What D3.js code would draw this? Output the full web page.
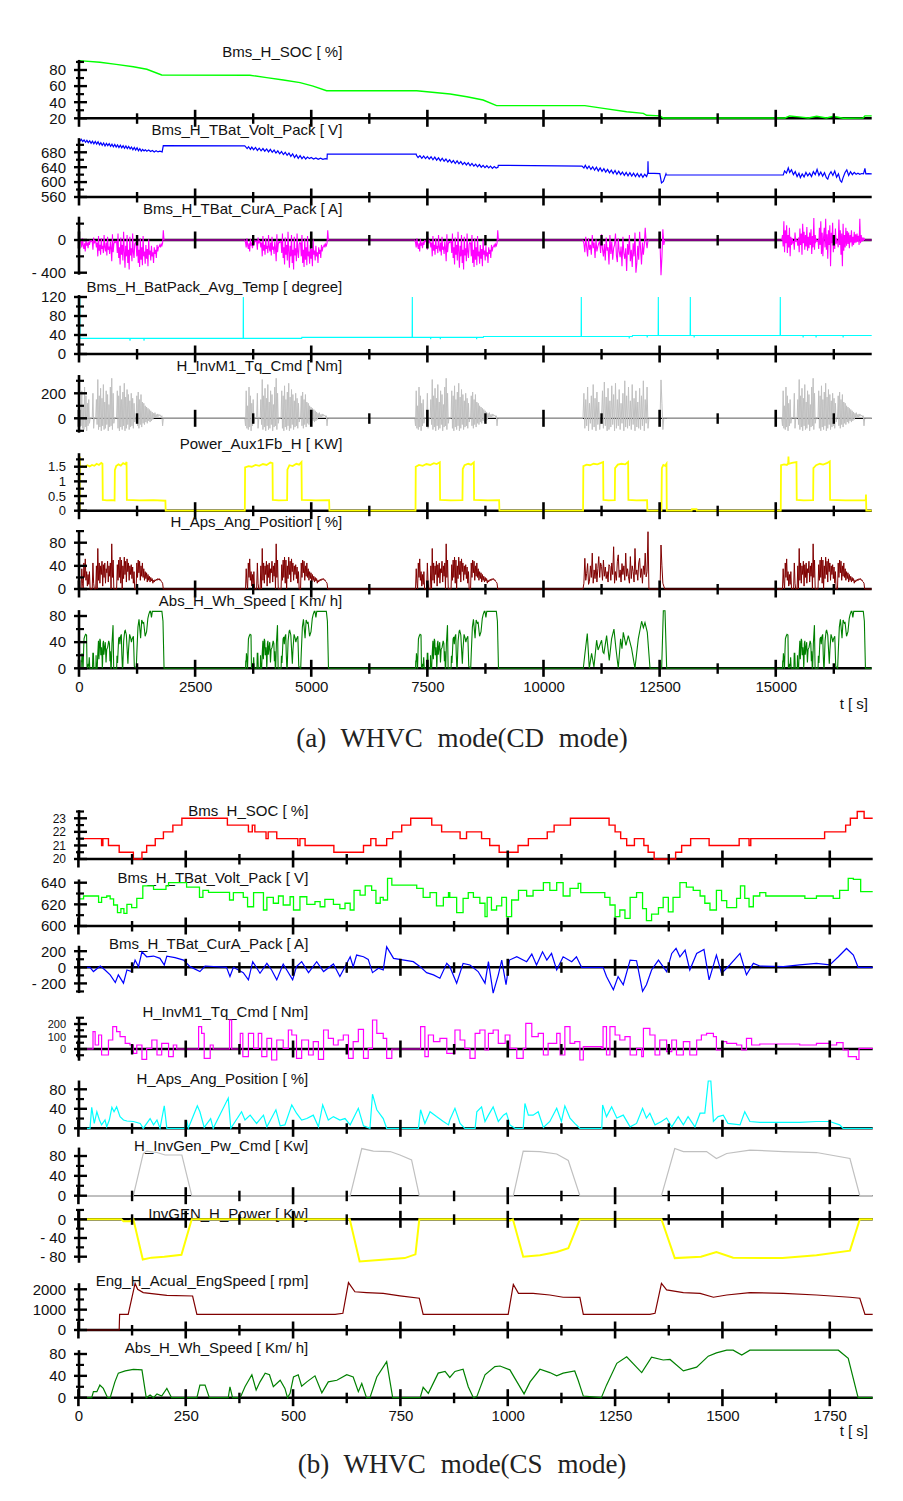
<!DOCTYPE html>
<html><head><meta charset="utf-8">
<script src="https://cdn.jsdelivr.net/npm/d3@7/dist/d3.min.js"></script>
<style>
body{margin:0;background:#fff}
svg{display:block}
text{font-family:"Liberation Sans",Arial,sans-serif;fill:#111}
.cap{font-family:"Liberation Serif","DejaVu Serif",serif;fill:#222}
</style>
</head><body>
<svg id="c" width="903" height="1501"></svg>
<script>
// ================= DATA =================
// ---- Panel (a): WHVC CD mode, t in s ----
const aXTicks = [0,2500,5000,7500,10000,12500,15000];
const aCycleStarts = [15,3555,7215,15115];   // start times of the repeated WHVC cycles (segments 1,2,3,5)
const aTEnd = 17066;

const aSoc = [[0,91.6],[450,89.6],[800,87],[1170,84.1],[1460,80.9],[1780,73.8],[3680,73.5],[4040,70.5],[4400,67.5],[4760,64.3],[5040,60],[5330,54.3],[7270,54.3],[7990,50.2],[8350,46.8],[8700,42.7],[8990,35.7],[10890,35.7],[11290,32.4],[11790,28.2],[12150,26.2],[12220,23.7],[12510,23],[12580,20.4],[15200,20.4],[15300,22.9],[15500,21.8],[15700,20.4],[15880,22.5],[16090,20.4],[16240,22.5],[16450,20],[16880,20.4],[16920,23],[17066,23]];

const aVolt = [[0,716],[30,711],[50,715],[80,709],[110,713],[140,707],[170,712],[200,706],[230,711],[260,704],[290,710],[320,703],[350,709],[380,702],[410,708],[440,700],[470,706],[500,699],[530,705],[560,697],[590,704],[620,698],[650,703],[680,696],[710,702],[740,695],[770,701],[800,694],[830,700],[860,693],[890,699],[920,692],[950,698],[980,691],[1010,697],[1040,690],[1070,696],[1100,689],[1130,694],[1160,687],[1190,693],[1220,686],[1250,692],[1280,684],[1310,690],[1340,683],[1370,688],[1400,684],[1430,687],[1460,683],[1500,686],[1540,682],[1580,685],[1620,681],[1660,684],[1700,681],[1740,683],[1790,681],[1815,698],[3570,697],
[3580,696],[3620,690],[3650,695],[3690,688],[3720,694],[3760,687],[3800,693],[3840,685],[3880,691],[3920,684],[3960,690],[4000,683],[4040,689],[4080,681],[4120,688],[4160,680],[4200,686],[4240,678],[4280,684],[4320,676],[4360,682],[4400,674],[4440,680],[4480,672],[4520,678],[4560,669],[4600,676],[4640,666],[4680,673],[4720,664],[4760,671],[4800,663],[4840,669],[4880,662],[4920,667],[4960,663],[5000,666],[5050,662],[5100,665],[5150,661],[5200,664],[5250,661],[5300,663],[5340,662],[5345,675],[7260,675],
[7265,672],[7300,666],[7340,671],[7380,664],[7420,670],[7460,663],[7500,669],[7540,662],[7580,668],[7620,660],[7660,667],[7700,659],[7740,665],[7780,657],[7820,664],[7860,656],[7900,662],[7940,654],[7980,660],[8020,652],[8060,658],[8100,650],[8140,657],[8180,649],[8220,655],[8260,647],[8300,653],[8340,646],[8380,652],[8420,644],[8460,650],[8500,643],[8540,648],[8580,641],[8620,647],[8660,640],[8700,645],[8740,639],[8780,644],[8820,638],[8860,643],[8900,637],[8940,642],[8980,638],[9020,640],[9027,645],[10830,643],
[10870,638],[10900,645],[10940,636],[10980,643],[11020,634],[11060,641],[11100,632],[11140,640],[11180,630],[11220,638],[11260,629],[11300,636],[11340,627],[11380,634],[11420,625],[11460,632],[11500,623],[11540,631],[11580,621],[11620,629],[11660,620],[11700,627],[11740,618],[11780,626],[11820,617],[11860,625],[11900,616],[11940,624],[11980,615],[12020,623],[12060,614],[12100,622],[12140,613],[12180,621],[12220,615],[12245,624],[12250,656],[12256,624],[12505,623],[12540,598],[12580,602],[12637,622],[12645,619],[15162,619],
[15190,630],[15230,624],[15270,638],[15300,626],[15340,633],[15380,620],[15420,628],[15460,615],[15500,624],[15530,612],[15570,622],[15610,614],[15650,626],[15690,617],[15730,624],[15770,615],[15810,628],[15850,620],[15890,634],[15930,618],[15970,627],[16010,616],[16050,625],[16090,612],[16120,608],[16150,620],[16190,628],[16230,618],[16270,630],[16310,613],[16350,622],[16390,604],[16420,600],[16450,612],[16490,625],[16530,633],[16570,618],[16610,628],[16650,620],[16690,626],[16730,621],[16770,624],[16810,621],[16850,623],[16890,622],[16920,637],[16940,622],[16990,623],[17066,622]];

// battery current, one value every 15 s of a CD cycle (segments 1-3)
const aCurCycle = [0,0,-30,-90,20,-60,-110,-40,-140,10,
-70,-30,-100,-20,-60,-10,-20,-10,-15,-120,
30,-40,-10,-20,-90,-30,-200,50,-130,-60,
-180,20,-110,-70,-160,60,-90,-140,-30,-190,
40,-120,-80,-170,-20,-100,-260,70,-150,-50,
-20,-30,-15,-20,-160,80,-220,-90,-300,30,
-180,-60,-250,100,-140,-340,-70,-200,60,-280,
-120,-360,40,-190,-100,-260,80,-150,-220,-50,
-30,-40,-200,60,-280,-120,-330,20,-240,-90,
-310,50,-200,-140,-290,-60,-230,-110,-320,10,
-180,-130,-250,-70,-200,-150,-280,-90,-170,-120,
-220,-60,-140,-90,-80,-60,-90,-50,-70,-40,120,0];
// segment 4, one value every 20 s from t = 10850 s
const aCurSeg4 = [0,-40,-150,40,-90,-200,20,-120,-60,-180,
60,-100,-30,-220,10,-140,-80,-40,-20,-160,
70,-110,-200,-50,-250,30,-130,-90,-300,60,
-170,-20,-240,-100,-60,80,-190,-270,20,-140,
-210,-80,-320,40,-160,-230,-100,-380,-50,-180,
60,-260,-120,-330,-40,-200,90,-400,-280,-70,
-240,100,-110,-300,-30,-180,-60,150,-20,-100,
0,0,0,0,0,0,0,0,0,0,
0,0,0,-50,-430,-200,130,-60,0,0,0];
// segment 5, one value every 15 s from t = 15115 s
const aCurSeg5 = [0,0,60,-80,230,-150,120,-40,180,-160,
60,-90,150,-200,40,-60,20,-30,-10,-120,
90,-20,0,-10,-70,30,-150,140,-60,80,
-180,200,-40,100,-120,60,-80,160,-130,40,
-100,90,-60,130,-170,50,-90,270,-120,60,
-20,0,-10,0,-110,150,-60,230,-170,90,
-200,40,150,-90,260,-120,70,-230,120,-60,
180,-320,90,-40,210,-150,60,-110,140,-50,
0,-20,-90,250,-60,120,-180,80,-320,200,
-130,60,-90,150,-70,110,-50,90,-100,60,
-30,120,-80,40,-60,100,-40,70,-30,80,
-20,50,-60,260,-40,60,-20,30,-10,20,0,0];

const aTemp = [[0,120],[18,120],[22,33],[1094,33],[1098,28],[1102,33],[1396,33],[1400,28],[1404,33],[3534,33],[3538,120],[3542,33],[4794,33],[4798,35],[7172,35],[7176,120],[7180,35],[7567,35],[7571,31],[7575,35],[7775,35],[7779,31],[7783,35],[8557,35],[8561,31],[8565,35],[8704,35],[8708,37],[10810,37],[10814,120],[10818,37],[11842,37],[11846,33],[11850,37],[11912,37],[11916,39],[12229,39],[12233,35],[12237,39],[12468,39],[12472,120],[12476,39],[13157,39],[13161,120],[13165,39],[13240,39],[13244,35],[13248,39],[15094,39],[15098,120],[15102,39],[15586,39],[15590,35],[15594,39],[15865,39],[15869,35],[15873,39],[16447,39],[16451,35],[16455,39],[17066,39]];

// motor torque command, one value every 15 s of a cycle
const aTqCycle = [0,0,-60,220,-80,100,-90,250,-70,180,
-100,120,-60,150,-40,0,0,0,0,200,
-80,0,0,0,150,-50,310,-90,180,-70,
240,-100,160,-60,270,-90,130,-80,220,-50,
190,-100,110,-70,250,-60,320,-90,200,-40,
0,0,0,0,220,-80,180,-100,260,-70,
150,-90,210,-60,280,-100,170,-80,230,-50,
190,-90,140,-70,200,-60,160,-80,120,-30,
0,0,180,-60,210,-80,150,-50,190,-70,
130,-40,120,-50,100,-30,90,-40,80,-20,
70,-30,60,-20,50,-10,40,10,45,5,
30,10,35,15,30,20,25,10,20,-60,0,0];
const aTqSeg4 = [0,200,-80,150,-60,250,-100,120,-40,180,
-90,270,-70,160,-100,210,-50,130,-90,0,
0,220,-80,290,-60,170,-100,240,-90,140,
-70,260,-50,190,-100,280,-80,150,-60,230,
-90,120,-40,200,-100,300,-70,180,-80,250,
-60,140,-90,270,-50,160,-100,220,-70,130,
-80,240,-90,180,-60,300,-100,150,-40,250,
-80,0,0,0,0,0,0,0,0,0,
0,0,0,0,307,120,-90,0,0,0,0];

const aAuxPw = [[0,0],[15,0],[18,1.84],[24,1.48],[80,1.52],[130,1.49],[180,1.55],[230,1.51],[280,1.56],[330,1.53],[380,1.6],[430,1.56],[480,1.63],[505,1.6],[512,0.37],[600,0.35],[700,0.36],[766,0.35],[772,1.38],[800,1.52],[850,1.58],[900,1.54],[950,1.62],[1000,1.58],[1024,1.66],[1030,0.37],[1300,0.35],[1600,0.36],[1860,0.34],[1866,0],[3570,0],[3576,1.48],[3650,1.52],[3720,1.5],[3800,1.56],[3880,1.53],[3960,1.59],[4040,1.56],[4120,1.64],[4166,1.62],[4172,0.37],[4300,0.35],[4480,0.36],[4487,1.4],[4530,1.55],[4600,1.52],[4680,1.6],[4740,1.57],[4790,1.66],[4797,0.37],[5100,0.35],[5385,0.36],[5391,0],[7245,0],[7250,1.5],[7320,1.56],[7400,1.53],[7480,1.59],[7560,1.56],[7640,1.62],[7700,1.59],[7768,1.65],[7774,0.37],[8000,0.35],[8255,0.36],[8262,1.42],[8300,1.55],[8380,1.6],[8440,1.57],[8500,1.65],[8506,0.37],[8800,0.35],[9045,0.36],[9051,0],[10852,0],[10858,1.52],[10930,1.57],[11000,1.55],[11080,1.6],[11160,1.58],[11240,1.63],[11284,1.66],[11290,0.37],[11400,0.35],[11535,0.36],[11541,1.45],[11600,1.57],[11680,1.6],[11760,1.58],[11822,1.66],[11828,0.37],[12000,0.35],[12230,0.36],[12236,0],[12540,0],[12548,1.45],[12580,1.56],[12620,1.53],[12648,1.6],[12654,0],[13190,0],[13195,0.05],[13295,0.05],[13300,0],[15108,0],[15114,1.55],[15180,1.58],[15240,1.56],[15268,1.62],[15274,1.85],[15280,1.6],[15350,1.63],[15446,1.66],[15452,0.37],[15600,0.35],[15805,0.36],[15811,1.45],[15870,1.55],[15950,1.6],[16020,1.57],[16100,1.62],[16164,1.68],[16170,0.37],[16500,0.35],[16938,0.36],[16943,0.55],[16950,0],[17066,0]];

// accelerator pedal position, one value every 15 s of a cycle
const aApsCycle = [0,0,0,35,10,0,45,20,52,15,
30,5,25,8,30,0,0,0,0,45,
10,0,0,0,40,0,70,15,45,10,
40,25,48,5,42,20,45,10,35,28,
48,12,40,22,45,0,78,20,50,0,
0,0,0,0,42,15,50,20,55,10,
50,0,40,18,55,25,48,12,52,30,
45,15,40,25,42,18,38,10,30,0,
0,0,45,20,50,28,48,15,40,22,
45,20,35,15,30,18,28,12,25,15,
22,12,20,14,18,10,15,12,16,14,
17,15,18,16,18,15,16,13,12,10,0,0];
const aApsSeg4 = [0,10,53,15,27,44,8,13,40,20,
62,10,33,18,44,12,35,56,20,45,
39,15,50,22,38,18,30,12,42,39,
15,45,25,73,10,30,15,48,59,20,
33,12,44,25,40,15,62,22,35,21,
10,56,18,40,30,12,70,25,33,15,
45,53,20,35,10,40,25,62,21,30,
99,0,0,0,0,0,0,0,0,0,
0,0,0,0,76,40,10,5,0,0];

// WHVC wheel speed profile (km/h), used in both panels
const whvcSpeed = [[0,0],[31,0],[35,11],[43,11],[50,23],[58,17],[68,0],[74,0],[85,29],[93,45],[109,49],[128,52],[148,51],[158,0],[167,5],[175,0],[183,7],[194,3],[206,17],[217,0],[276,0],[283,23],[295,23],[305,0],[349,0],[353,20],[359,0],[377,0],[388,20],[404,42],[414,14],[423,29],[435,45],[445,42],[454,20],[470,32],[481,17],[487,0],[493,8],[501,38],[512,42],[520,21],[532,29],[551,40],[567,9],[582,29],[602,32],[625,42],[640,38],[652,11],[660,26],[671,0],[679,0],[695,38],[718,66],[732,0],[796,0],[803,19],[815,8],[838,45],[854,48],[865,37],[877,48],[896,52],[908,20],[920,0],[928,2],[947,42],[970,57],[982,58],[1005,51],[1017,35],[1038,7],[1052,29],[1075,52],[1098,46],[1114,40],[1129,45],[1156,49],[1164,32],[1176,3],[1218,0],[1230,23],[1254,63],[1277,75],[1312,46],[1335,74],[1362,69],[1378,70],[1409,49],[1440,56],[1467,76],[1486,82],[1510,87],[1525,87],[1545,78],[1564,87],[1770,87],[1793,72],[1816,0],[1850,0]];
const aSpeedSeg4 = [[10857,0],[10893,23],[10943,53],[10986,0],[11036,23],[11086,2],[11144,43],[11175,28],[11201,33],[11251,43],[11280,25],[11301,23],[11359,50],[11416,12],[11466,45],[11517,60],[11560,30],[11610,0],[11660,45],[11690,30],[11718,55],[11775,35],[11826,50],[11897,30],[11969,0],[12041,45],[12113,72],[12150,62],[12185,70],[12235,55],[12293,0],[12544,0],[12580,88],[12616,88],[12652,0]];

// ---- Panel (b): WHVC CS mode, t in s ----
const bXTicks = [0,250,500,750,1000,1250,1500,1750];
const bTEnd = 1850;

const bSoc = [[0,21.5],[54,21],[57,21.5],[70,21],[95,20.5],[128,20],[148,20.5],[159,21],[179,21.5],[198,22],[220,22.5],[241,23],[347,22.5],[396,22],[405,22.5],[411,22],[437,21.5],[442,22],[462,21.5],[511,21],[516,21.5],[528,21],[595,20.5],[664,21],[681,21.5],[693,21],[718,21.5],[732,22],[753,22.5],[774,23],[823,22.5],[846,22],[889,21.5],[904,22],[939,21.5],[958,21],[980,20.5],[1024,21],[1048,21.5],[1092,22],[1108,22.5],[1146,23],[1236,22.5],[1250,22],[1263,21.5],[1277,21],[1295,21.5],[1317,21],[1327,20.5],[1341,20],[1391,20.5],[1405,21],[1426,21.5],[1469,21],[1539,21.5],[1562,21],[1566,21.5],[1738,22],[1787,22.5],[1798,23],[1814,23.5],[1830,23],[1850,23]];

const bVolt = [[0,625],[12,627.7],[47,621.8],[54,626.5],[66,627.7],[74,625],[82,619.4],[91,612.3],[99,616],[106,611.7],[113,620],[124,617],[136,625.5],[150,637],[175,633.8],[204,637],[210,640],[252,636],[282,626.5],[290,633],[303,631],[352,624],[361,630.8],[384,626.5],[394,617.8],[408,630.8],[431,614.8],[439,626.5],[454,621],[466,627.7],[477,619.4],[493,627],[501,614.8],[516,627],[532,620],[551,622.5],[563,617.8],[574,624.6],[594,620],[609,616],[621,621],[633,614.8],[642,633],[656,628.6],[668,637],[683,633],[693,621],[703,626.5],[710,624],[720,644],[730,637.8],[788,634.8],[803,626.5],[819,630.8],[834,618.5],[850,626.5],[862,630.8],[865,626.5],[881,612.3],[896,625.5],[908,630.8],[920,626.5],[935,621],[947,608.6],[952,626.5],[962,614.8],[974,618.5],[986,626.5],[997,608.6],[1009,624],[1025,633],[1044,627.7],[1059,633],[1083,640],[1098,633],[1114,640],[1129,627.7],[1145,634.8],[1164,639.4],[1170,630.8],[1207,630.8],[1226,626.5],[1238,619.4],[1250,608.6],[1261,614.8],[1273,607],[1285,626.5],[1300,630.8],[1314,616],[1323,605],[1335,611],[1351,617],[1362,626.5],[1374,613],[1385,626.5],[1401,640],[1416,636],[1432,633],[1448,627.7],[1459,621],[1471,614.8],[1486,633],[1498,623.4],[1510,617],[1533,625.5],[1542,637],[1552,625.5],[1562,617.8],[1572,627.7],[1587,630.8],[1601,627.7],[1692,625.5],[1719,627.7],[1758,625.5],[1773,633],[1793,644],[1805,643],[1822,631.7],[1850,631.7]];

const bCur = [[0,0],[27,0],[35,-53],[51,16],[62,-33],[74,-94],[86,-189],[93,-94],[105,-197],[113,-33],[124,-53],[132,90],[140,8],[148,193],[159,131],[175,140],[190,111],[200,29],[206,139],[225,120],[245,90],[260,8],[283,-53],[295,16],[345,0],[353,-115],[361,0],[384,-66],[396,-156],[406,70],[423,-74],[439,49],[450,-33],[462,-156],[477,41],[499,-156],[508,8],[520,70],[536,-66],[555,70],[571,-53],[594,41],[609,-115],[621,8],[633,131],[640,8],[648,152],[664,131],[675,98],[685,-66],[699,-12],[710,-33],[718,254],[734,111],[780,70],[796,8],[811,-66],[827,-94],[842,-135],[858,49],[865,8],[881,-197],[896,49],[912,29],[931,-53],[947,-197],[955,70],[966,-320],[978,-94],[986,90],[996,-217],[1004,90],[1021,131],[1044,70],[1056,164],[1067,29],[1081,193],[1091,90],[1102,172],[1114,-33],[1129,131],[1149,70],[1160,131],[1172,0],[1222,0],[1230,-115],[1246,-279],[1257,-115],[1269,-217],[1285,90],[1300,82],[1314,-299],[1323,-217],[1335,-33],[1351,90],[1370,-53],[1382,172],[1392,234],[1401,131],[1413,213],[1424,-33],[1440,172],[1457,221],[1469,-156],[1486,152],[1498,-74],[1517,29],[1541,172],[1556,-94],[1572,49],[1587,16],[1642,8],[1680,29],[1719,49],[1750,29],[1770,131],[1789,234],[1805,152],[1816,0],[1850,0]];

const bTq = [[0,0],[31,0],[34,139],[39,32],[47,112],[54,-48],[66,-48],[70,72],[80,179],[89,139],[97,99],[109,45],[120,32],[128,-35],[136,32],[148,-83],[159,5],[171,72],[183,-48],[194,45],[210,-61],[221,32],[229,0],[276,0],[280,179],[287,125],[293,-75],[307,32],[314,0],[345,0],[352,232],[357,0],[377,125],[383,-61],[396,125],[408,5],[419,125],[427,-61],[439,85],[450,-88],[462,72],[477,5],[489,152],[497,112],[508,-75],[520,72],[536,-48],[547,59],[559,-83],[571,152],[582,85],[594,32],[605,72],[617,112],[629,-75],[640,59],[652,157],[664,-75],[675,5],[685,232],[695,125],[710,85],[718,-75],[730,0],[792,0],[797,179],[807,-61],[815,112],[827,59],[842,85],[858,-35],[865,-35],[877,152],[889,72],[900,5],[912,-75],[924,125],[935,152],[947,-8],[955,125],[966,152],[978,45],[994,112],[1005,5],[1021,-75],[1036,5],[1042,205],[1056,99],[1071,125],[1083,-48],[1094,45],[1114,125],[1122,-48],[1133,179],[1145,45],[1156,59],[1168,-88],[1176,19],[1219,5],[1222,179],[1230,-48],[1238,179],[1250,112],[1261,72],[1273,99],[1285,-48],[1300,5],[1312,-61],[1316,165],[1331,112],[1343,-48],[1354,72],[1370,-21],[1382,72],[1393,-48],[1409,59],[1424,-48],[1440,72],[1451,112],[1463,125],[1479,99],[1486,-8],[1498,59],[1510,45],[1533,32],[1545,-8],[1556,85],[1568,32],[1587,40],[1642,40],[1680,32],[1719,45],[1750,32],[1766,51],[1781,-8],[1793,-61],[1812,-83],[1818,5],[1850,5]];

const bAps = [[0,0],[27,0],[31,43],[37,10],[43,34],[49,17],[54,7],[62,17],[66,3],[72,17],[78,43],[83,34],[89,44],[97,24],[105,17],[113,15],[128,14],[144,10],[151,0],[167,20],[175,7],[183,17],[190,0],[200,46],[206,0],[248,0],[252,17],[256,0],[277,46],[283,34],[293,2],[308,20],[314,0],[349,62],[355,0],[380,34],[388,17],[400,27],[415,10],[431,27],[439,3],[460,38],[470,5],[481,7],[497,48],[508,31],[520,17],[532,20],[547,27],[559,3],[569,48],[582,17],[594,24],[609,17],[621,20],[633,7],[652,41],[664,5],[679,0],[685,70],[695,38],[710,20],[718,0],[792,0],[797,38],[807,10],[819,34],[834,24],[850,14],[862,7],[865,17],[877,41],[889,10],[900,0],[924,0],[928,34],[939,44],[947,14],[955,27],[966,44],[978,14],[990,27],[997,31],[1005,7],[1017,0],[1036,0],[1040,51],[1048,27],[1059,27],[1071,34],[1083,2],[1098,14],[1114,41],[1125,14],[1133,46],[1145,21],[1156,10],[1168,0],[1219,0],[1221,48],[1230,24],[1242,44],[1254,21],[1269,27],[1285,3],[1300,10],[1314,41],[1323,21],[1331,31],[1343,7],[1358,14],[1370,21],[1382,3],[1397,24],[1409,7],[1420,24],[1436,3],[1448,31],[1459,31],[1467,97],[1473,97],[1479,14],[1490,24],[1502,27],[1513,10],[1541,7],[1552,34],[1564,14],[1587,12],[1680,12],[1719,14],[1750,14],[1773,7],[1781,0],[1850,0]];

const bGenCmd = [[0,0],[128,0],[151,85],[159,90],[183,87],[202,82],[241,82],[264,0],[633,0],[660,95],[687,90],[726,89],[749,82],[776,72],[794,0],[1013,0],[1036,90],[1075,89],[1114,84],[1141,71],[1168,0],[1358,0],[1389,95],[1409,89],[1463,89],[1486,75],[1510,85],[1564,92],[1642,89],[1719,87],[1797,75],[1820,0],[1850,0]];

const bGenPw = [[0,0],[100,0],[105,-4],[120,-4],[128,0],[150,-86],[170,-82],[200,-80],[240,-76],[264,0],[632,0],[655,-90],[700,-87],[760,-83],[785,-75],[794,0],[1000,0],[1005,-3],[1012,0],[1036,-80],[1075,-77],[1114,-70],[1141,-62],[1168,0],[1358,0],[1389,-83],[1450,-80],[1486,-70],[1525,-82],[1640,-83],[1719,-77],[1797,-67],[1820,0],[1850,0]];

const bEng = [[0,0],[95,0],[96,770],[116,770],[132,2290],[138,2000],[151,1840],[206,1700],[266,1670],[276,770],[598,770],[616,820],[629,2330],[644,1880],[671,1840],[710,1800],[749,1680],[794,1560],[803,770],[1001,770],[1013,2240],[1025,1800],[1059,1800],[1098,1720],[1129,1610],[1168,1605],[1176,770],[1331,770],[1343,820],[1358,2290],[1370,1970],[1409,1840],[1448,1800],[1479,1610],[1510,1720],[1564,1840],[1642,1800],[1719,1720],[1797,1610],[1820,1560],[1832,770],[1850,770]];

// ================= HELPERS =================
function steps(start, dt, vals){ return vals.map((v,i)=>[start+i*dt, v]); }
function shift(pairs, off){ return pairs.map(p=>[p[0]+off, p[1]]); }
const neg = v => v < 0 ? "- " + (-v) : String(v);

const aSpeed = [[0,0]].concat(
  ...aCycleStarts.slice(0,3).map(o=>shift(whvcSpeed,o)), aSpeedSeg4,
  shift(whvcSpeed, aCycleStarts[3]), [[aTEnd,0]]);
const aCur = [[0,0]].concat(
  ...aCycleStarts.slice(0,3).map(o=>steps(o,15,aCurCycle)),
  steps(10850,20,aCurSeg4), steps(aCycleStarts[3],15,aCurSeg5), [[aTEnd,0]]);
const aTq = [[0,0]].concat(
  ...aCycleStarts.slice(0,3).map(o=>steps(o,15,aTqCycle)),
  steps(10850,20,aTqSeg4), steps(aCycleStarts[3],15,aTqCycle), [[aTEnd,0]]);
const aAps = [[0,0]].concat(
  ...aCycleStarts.slice(0,3).map(o=>steps(o,15,aApsCycle)),
  steps(10850,20,aApsSeg4), steps(aCycleStarts[3],15,aApsCycle), [[aTEnd,0]]);

// ================= LAYOUT =================
const svg = d3.select("#c");
const X0 = 79;
const xA = d3.scaleLinear().domain([0,aTEnd]).range([X0,871.7]);
const xB = d3.scaleLinear().domain([0,bTEnd]).range([78.4,872.7]);

const stripsA = [
 {title:"Bms_H_SOC [ %]", tb:57, d:[20,80], r:[118.3,70], top:92.5, bot:20, at:20, major:[20,40,60,80], minor:[30,50,70,90], color:"#00ff00", data:aSoc, w:1.4},
 {title:"Bms_H_TBat_Volt_Pack [ V]", tb:135, d:[560,680], r:[197,152.3], top:718, bot:560, at:560, major:[560,600,640,680], minor:[580,620,660,700], color:"#0000ff", data:aVolt, w:1.2},
 {title:"Bms_H_TBat_CurA_Pack [ A]", tb:214, d:[-400,0], r:[272.7,240], top:285, bot:-425, at:0, major:[-400,0], minor:[-200,200], color:"#ff00ff", data:aCur, w:1.1},
 {title:"Bms_H_BatPack_Avg_Temp [ degree]", tb:292.3, d:[0,120], r:[354,297], top:124, bot:0, at:0, major:[0,40,80,120], minor:[20,60,100], color:"#00ffff", data:aTemp, w:1.1},
 {title:"H_InvM1_Tq_Cmd [ Nm]", tb:370.7, d:[0,200], r:[418.3,393.3], top:346, bot:-115, at:0, major:[0,200], minor:[-100,100,300], color:"#c0c0c0", data:aTq, w:1.0, thin:true},
 {title:"Power_Aux1Fb_H [ KW]", tb:449, d:[0,1.5], r:[510.7,466.7], top:1.96, bot:0, at:0, major:[0,0.5,1,1.5], minor:[0.25,0.75,1.25,1.75], color:"#ffff00", data:aAuxPw, w:1.8, lf:13},
 {title:"H_Aps_Ang_Position [ %]", tb:527.3, d:[0,80], r:[589,542.7], top:100.5, bot:0, at:0, major:[0,40,80], minor:[20,60,100], color:"#800000", data:aAps, w:1.0},
 {title:"Abs_H_Wh_Speed [ Km/ h]", tb:605.7, d:[0,80], r:[668.3,616], top:89, bot:0, at:0, major:[0,40,80], minor:[20,60], color:"#008000", data:aSpeed, w:1.1}
];
const stripsB = [
 {title:"Bms_H_SOC [ %]", tb:815.5, d:[20,23], r:[859,818.3], top:23.6, bot:20, at:20, major:[20,21,22,23], minor:[20.5,21.5,22.5,23.5], color:"#ff0000", data:bSoc, w:1.4, step:true, lf:12},
 {title:"Bms_H_TBat_Volt_Pack [ V]", tb:882.7, d:[600,640], r:[926,882.7], top:643, bot:600, at:600, major:[600,620,640], minor:[610,630], color:"#00ff00", data:bVolt, w:1.3, step:true},
 {title:"Bms_H_TBat_CurA_Pack [ A]", tb:949.3, d:[0,200], r:[967.3,951.2], top:268, bot:-320, at:0, major:[-200,0,200], minor:[-300,-100,100], color:"#0000ff", data:bCur, w:1.2},
 {title:"H_InvM1_Tq_Cmd [ Nm]", tb:1017.3, d:[0,200], r:[1049,1024], top:255, bot:-94, at:0, major:[0,100,200], minor:[-50,50,150,250], color:"#ff00ff", data:bTq, w:1.2, step:true, lf:11},
 {title:"H_Aps_Ang_Position [ %]", tb:1084.3, d:[0,80], r:[1128.3,1089.3], top:98, bot:0, at:0, major:[0,40,80], minor:[20,60], color:"#00ffff", data:bAps, w:1.2},
 {title:"H_InvGen_Pw_Cmd [ Kw]", tb:1151, d:[0,80], r:[1195.7,1156], top:97, bot:0, at:0, major:[0,40,80], minor:[20,60], color:"#c0c0c0", data:bGenCmd, w:1.2, thin:true},
 {title:"InvGEN_H_Power [ Kw]", tb:1219, d:[-80,0], r:[1256.7,1219.3], top:20, bot:-93, at:0, major:[-80,-40,0], minor:[-60,-20,20], color:"#ffff00", data:bGenPw, w:2.0},
 {title:"Eng_H_Acual_EngSpeed [ rpm]", tb:1286, d:[0,2000], r:[1330,1289.3], top:2300, bot:0, at:0, major:[0,1000,2000], minor:[500,1500], color:"#800000", data:bEng, w:1.2},
 {title:"Abs_H_Wh_Speed [ Km/ h]", tb:1353.3, d:[0,80], r:[1397.7,1354], top:87, bot:0, at:0, major:[0,40,80], minor:[20,60], color:"#008000", data:whvcSpeed, w:1.2}
];

function drawStrip(g, x, s, titleX, xMajor, xMinor){
  const y = d3.scaleLinear().domain(s.d).range(s.r);
  const [xl, xr] = x.range();
  g.append("text").attr("x", titleX).attr("y", s.tb).attr("text-anchor","end")
    .style("font-size","15px").text(s.title);
  const ya = y(s.at);
  g.append("line").attr("x1", xl).attr("x2", xr).attr("y1", ya).attr("y2", ya)
    .attr("stroke","#000").attr("stroke-width", s.thin ? 1.3 : 2.6);
  const line = d3.line().x(d=>x(d[0])).y(d=>y(d[1]))
    .curve(s.step ? d3.curveStepAfter : d3.curveLinear);
  g.append("path").datum(s.data).attr("d", line).attr("fill","none")
    .attr("stroke", s.color).attr("stroke-width", s.w).attr("stroke-linejoin","miter");
  // x ticks on the strip axis
  g.selectAll(null).data(xMajor).join("line")
    .attr("x1", d=>x(d)).attr("x2", d=>x(d)).attr("y1", ya-8.5).attr("y2", ya+8.5)
    .attr("stroke","#000").attr("stroke-width",2.6);
  g.selectAll(null).data(xMinor).join("line")
    .attr("x1", d=>x(d)).attr("x2", d=>x(d)).attr("y1", ya-5).attr("y2", ya+5.5)
    .attr("stroke","#000").attr("stroke-width",2.4);
  // vertical axis
  g.append("line").attr("x1", X0).attr("x2", X0).attr("y1", y(s.bot)).attr("y2", y(s.top))
    .attr("stroke","#000").attr("stroke-width",2.6);
  g.selectAll(null).data(s.major).join("line")
    .attr("x1", X0-5).attr("x2", X0+8).attr("y1", d=>y(d)).attr("y2", d=>y(d))
    .attr("stroke","#000").attr("stroke-width",2.4);
  g.selectAll(null).data(s.minor).join("line")
    .attr("x1", X0-3).attr("x2", X0+5).attr("y1", d=>y(d)).attr("y2", d=>y(d))
    .attr("stroke","#000").attr("stroke-width",2.2);
  // y labels via d3 axis
  const ax = d3.axisLeft(y).tickValues(s.major).tickFormat(neg).tickSize(0).tickPadding(0);
  const ag = g.append("g").attr("transform", `translate(66,0)`).call(ax);
  ag.select(".domain").remove();
  ag.selectAll("text").style("font-size", (s.lf || 15) + "px").style("font-family","Liberation Sans, Arial, sans-serif").attr("fill","#111");
}

function drawPanel(strips, x, titleX, xMajor, xMinor, labelTicks, lastAxisY, tLabelY, caption, capY){
  const g = svg.append("g");
  strips.forEach(s => drawStrip(g.append("g"), x, s, titleX, xMajor, xMinor));
  const ax = d3.axisBottom(x).tickValues(labelTicks).tickFormat(d3.format("d")).tickSize(0).tickPadding(13);
  const ag = g.append("g").attr("transform", `translate(0,${lastAxisY})`).call(ax);
  ag.select(".domain").remove();
  ag.selectAll("text").style("font-size","15px").style("font-family","Liberation Sans, Arial, sans-serif").attr("fill","#111");
  g.append("text").attr("x", 868).attr("y", tLabelY).attr("text-anchor","end")
    .style("font-size","15px").text("t [ s]");
  g.append("text").attr("class","cap").attr("x", 462).attr("y", capY).attr("text-anchor","middle")
    .style("font-size","27px").style("word-spacing","8px").text(caption);
}

const aMinor = d3.range(1250, aTEnd, 2500);
const bMinor = d3.range(125, bTEnd, 250);
drawPanel(stripsA, xA, 342.3, aXTicks, aMinor, aXTicks, 668.3, 709, "(a) WHVC mode(CD mode)", 747);
drawPanel(stripsB, xB, 308.3, bXTicks, bMinor, bXTicks, 1397.7, 1436, "(b) WHVC mode(CS mode)", 1473);
</script>
</body></html>
